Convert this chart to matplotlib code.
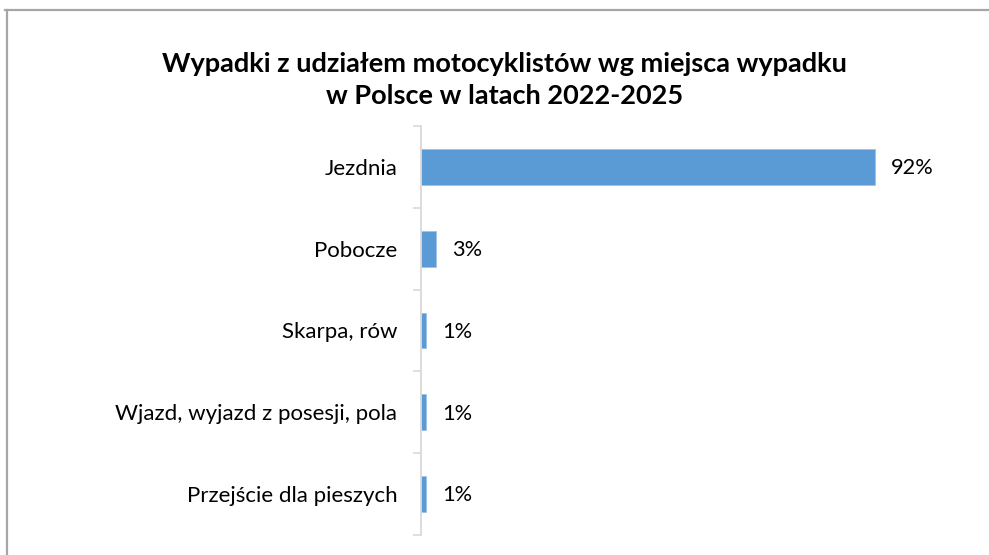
import numpy as np
import matplotlib
matplotlib.use("Agg")
import matplotlib.pyplot as plt
from matplotlib.lines import Line2D
from matplotlib.ticker import FixedLocator

# dane z wykresu
kategorie = ["Jezdnia", "Pobocze", "Skarpa, rów", "Wjazd, wyjazd z posesji, pola", "Przejście dla pieszych"]
udzialy = [92, 3, 1, 1, 1]
etykiety = ["92%", "3%", "1%", "1%", "1%"]

tytul = "Wypadki z udziałem motocyklistów wg miejsca wypadku\nw Polsce w latach 2022-2025"

plt.rcParams['font.family'] = ['Lato', 'DejaVu Sans']

fig = plt.figure(figsize=(9.89, 5.55), dpi=100)
ax = fig.add_axes([421/989, 1-535/555, 493/989, (535-126)/555])

y = np.arange(len(kategorie))
bars = ax.barh(y, udzialy, height=0.44, color='#5b9bd5', edgecolor='#9dc3e6', linewidth=0.6)

for b, t in zip(bars, etykiety):
    ax.annotate(t, (b.get_width(), b.get_y() + b.get_height()/2),
                xytext=(12, -1), textcoords='offset points',
                va='center', ha='left', fontsize=15.7, color='#000000')

ax.set_xlim(0, 100)
ax.set_ylim(len(kategorie) - 0.5, -0.5)
ax.set_yticks(y)
ax.set_yticklabels(kategorie, fontsize=16)
ax.yaxis.set_minor_locator(FixedLocator(np.arange(len(kategorie)+1) - 0.5))
ax.tick_params(axis='y', which='major', length=0, pad=17)
ax.tick_params(axis='y', which='minor', length=5.5, width=1.2, color='#d9d9d9', direction='out')
ax.set_xticks([])
for s in ['top', 'right', 'bottom']:
    ax.spines[s].set_visible(False)
ax.spines['left'].set_color('#d9d9d9')
ax.spines['left'].set_linewidth(1.3)

fig.text(0.510, 1-80/555, tytul, ha='center', va='center', fontsize=19.5,
         fontweight='bold', linespacing=1.42)

# ramka wykresu
fig.add_artist(Line2D([5/989, 1], [1-10/555, 1-10/555], color='#a6a6a6', lw=1.6))
fig.add_artist(Line2D([7/989, 7/989], [0, 1-10/555], color='#a6a6a6', lw=1.6))

fig.savefig("out.png", dpi=100)
